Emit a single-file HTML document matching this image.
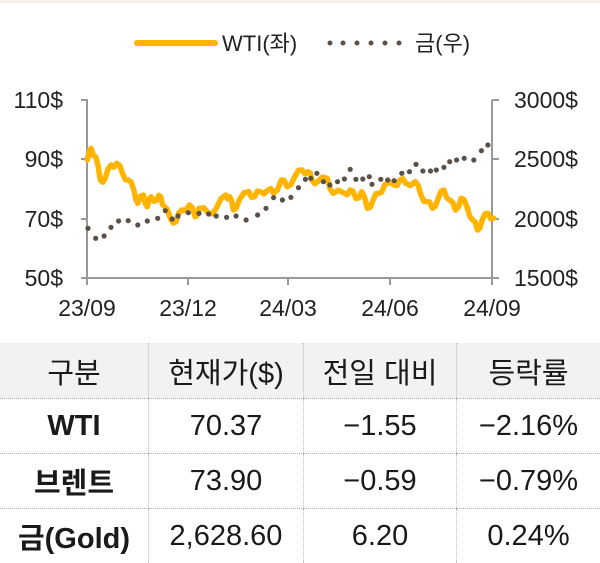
<!DOCTYPE html>
<html><head><meta charset="utf-8"><style>
body{margin:0;width:600px;height:561px;background:#fff;overflow:hidden;font-family:"Liberation Sans Narrow","Liberation Sans","Noto Sans CJK KR",sans-serif;position:relative}
.top{position:absolute;left:0;top:0;width:600px;height:3px;background:#f8efe3}
table{position:absolute;left:0;top:343px;width:600px;border-collapse:collapse}
td{text-align:center;font-size:29px;color:#1a1a1a;border-left:1px dotted #bbb;border-bottom:1px dotted #aaa;padding:0;height:54px}
td:first-child{border-left:none}
tr.h td{background:#f2f2f2;height:55px}
td.b{font-weight:bold}
</style></head><body>
<div class="top"></div>
<svg id="c" width="600" height="330" style="position:absolute;left:0;top:0" font-family="Liberation Sans Narrow, Liberation Sans, Noto Sans CJK KR, sans-serif">
<line x1="137" y1="43" x2="215" y2="43" stroke="#ffb400" stroke-width="6" stroke-linecap="round"/>
<text x="222" y="51" font-size="22" fill="#222">WTI(좌)</text>
<g fill="#5a5048"><circle cx="330" cy="43" r="2.5"/><circle cx="343" cy="43" r="2.5"/><circle cx="357" cy="43" r="2.5"/><circle cx="371" cy="43" r="2.5"/><circle cx="385" cy="43" r="2.5"/><circle cx="399" cy="43" r="2.5"/></g>
<text x="415" y="51" font-size="22" fill="#222">금(우)</text>
<g stroke="#999" stroke-width="2" fill="none">
<path d="M81 100H87V278H81M87 278H492M81 159H87M81 219H87M492 100H499M492 278V100M492 159H499M492 219H499M492 278H499M87 278V285M188 278V285M288 278V285M390 278V285M492 278V285"/>
</g>
<g font-size="23" fill="#222">
<text x="63" y="108" text-anchor="end">110$</text><text x="63" y="167" text-anchor="end">90$</text><text x="63" y="227" text-anchor="end">70$</text><text x="63" y="286" text-anchor="end">50$</text>
<text x="514" y="108">3000$</text><text x="514" y="167">2500$</text><text x="514" y="227">2000$</text><text x="514" y="286">1500$</text>
<text x="87" y="316" text-anchor="middle">23/09</text><text x="188" y="316" text-anchor="middle">23/12</text><text x="288" y="316" text-anchor="middle">24/03</text><text x="390" y="316" text-anchor="middle">24/06</text><text x="492" y="316" text-anchor="middle">24/09</text>
</g>
<polyline id="w" fill="none" stroke="#ffb400" stroke-width="5.5" stroke-linejoin="round" stroke-linecap="round"/>
<g id="g" fill="#5a5048"></g>
</svg>
<table>
<tr class="h"><td style="width:148px">구분</td><td style="width:154px">현재가($)</td><td style="width:152px">전일 대비</td><td>등락률</td></tr>
<tr><td class="b">WTI</td><td>70.37</td><td>−1.55</td><td>−2.16%</td></tr>
<tr><td class="b">브렌트</td><td>73.90</td><td>−0.59</td><td>−0.79%</td></tr>
<tr><td class="b" style="border-bottom:none">금(Gold)</td><td style="border-bottom:none">2,628.60</td><td style="border-bottom:none">6.20</td><td style="border-bottom:none">0.24%</td></tr>
</table>
<script>
var W=[228,480,238,445,250,470,262,540,275,535,290,495,305,490,320,520,335,540,350,570,360,610,375,585,385,620,395,590,410,600,420,590,430,620,445,655,460,665,475,630,495,615,510,650,520,625,545,640,565,625,590,585,600,590,610,630,625,600,650,575,665,590,680,575,700,570,715,580,735,540,750,560,770,530,790,510,805,515,815,540,830,545,855,535,870,580,900,580,915,570,930,595,945,575,960,625,975,600,990,580,1005,555,1030,555,1045,540,1060,550,1085,545,1100,585,1115,605,1130,625,1145,595,1160,570,1175,600,1190,630,1205,595,1220,620,1235,660,1248,690,1260,660,1275,640,1290,655];
var p=[];for(var i=0;i<W.length;i+=2){var x=W[i]/2.613,y=W[i+1]/3;p.push(x.toFixed(1)+","+y.toFixed(1));if(i+2<W.length){var x2=W[i+2]/2.613,y2=W[i+3]/3;p.push(((x+x2)/2).toFixed(1)+","+((y+y2)/2+((i/2)%2?3:-3)).toFixed(1));}}
document.getElementById("w").setAttribute("points",p.join(" "));
var G=[230,685,250,715,272,708,290,682,310,663,335,662,360,675,385,663,412,655,432,632,450,657,465,648,492,638,520,640,545,642,565,648,592,652,617,648,643,660,673,645,695,625,715,593,738,600,760,592,780,563,798,538,812,535,828,520,845,545,862,555,882,545,900,537,915,508,930,538,948,537,965,530,972,553,995,538,1013,540,1030,542,1050,520,1070,515,1087,493,1105,513,1125,513,1140,510,1160,502,1175,485,1193,480,1213,475,1238,480,1258,452,1275,435];
var s="";for(var i=0;i<G.length;i+=2)s+='<circle cx="'+(G[i]/2.613).toFixed(1)+'" cy="'+(G[i+1]/3).toFixed(1)+'" r="2.6"/>';
document.getElementById("g").innerHTML=s;
</script>
</body></html>
